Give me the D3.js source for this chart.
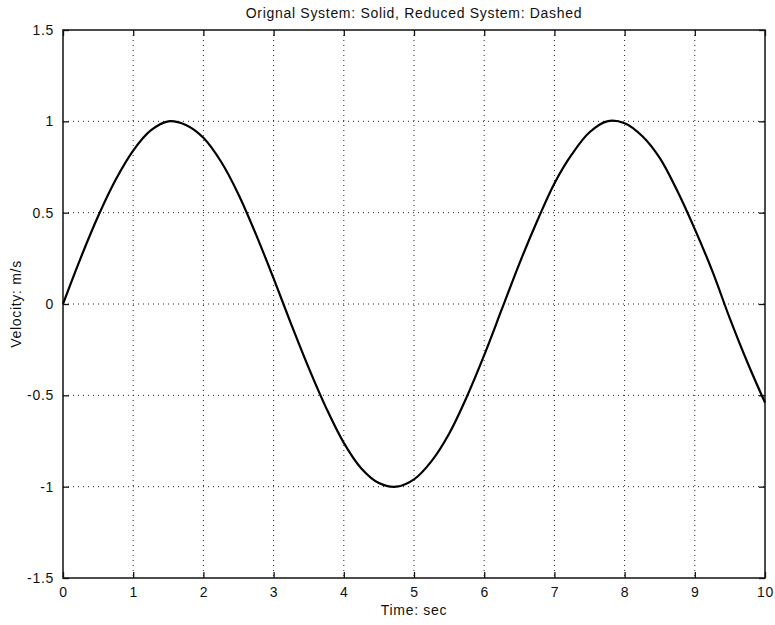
<!DOCTYPE html>
<html>
<head>
<meta charset="utf-8">
<script src="https://cdn.jsdelivr.net/npm/d3@7"></script>
<style>
  body { margin: 0; background: #fff; }
  text { font-family: "Liberation Sans", Arial, sans-serif; fill: #111; letter-spacing: 0.7px; }
</style>
</head>
<body>
<svg width="775" height="625"></svg>
<script>
// time samples (sec) and velocity
var time = [0, 0.25, 0.5, 0.75, 1, 1.25, 1.5, 1.75, 2, 2.25, 2.5, 2.75, 3, 3.25, 3.5, 3.75,
  4, 4.25, 4.5, 4.75, 5, 5.25, 5.5, 5.75, 6, 6.25, 6.5, 6.75, 7, 7.25, 7.5, 7.75,
  8, 8.25, 8.5, 8.75, 9, 9.25, 9.5, 9.75, 10];
var velocity = [0, 0.25, 0.48, 0.68, 0.84, 0.95, 1.0, 0.98, 0.91, 0.78, 0.6, 0.38, 0.14, -0.11, -0.35, -0.57,
  -0.76, -0.9, -0.98, -1.0, -0.96, -0.86, -0.71, -0.51, -0.28, -0.03, 0.22, 0.45, 0.66, 0.82, 0.94, 1.0,
  0.99, 0.92, 0.8, 0.62, 0.41, 0.18, -0.08, -0.32, -0.54];
var xTicks = [0, 1, 2, 3, 4, 5, 6, 7, 8, 9, 10];
var yTicks = [-1.5, -1, -0.5, 0, 0.5, 1, 1.5];

var svg = d3.select("svg");
var pLeft = 63, pRight = 765, pTop = 30, pBottom = 578;

var x = d3.scaleLinear().domain([0, 10]).range([pLeft, pRight]);
var y = d3.scaleLinear().domain([-1.5, 1.5]).range([pBottom, pTop]);

// grid
var grid = svg.append("g")
  .style("stroke", "#222")
  .style("stroke-width", 1)
  .style("stroke-dasharray", "1,4");
grid.selectAll("line.gx")
  .data(xTicks.slice(1, -1))
  .enter().append("line")
  .attr("x1", function(d) { return x(d); })
  .attr("x2", function(d) { return x(d); })
  .attr("y1", pTop).attr("y2", pBottom);
grid.selectAll("line.gy")
  .data(yTicks.slice(1, -1))
  .enter().append("line")
  .attr("y1", function(d) { return y(d); })
  .attr("y2", function(d) { return y(d); })
  .attr("x1", pLeft).attr("x2", pRight);

// axes, matlab style: ticks inward, on all four sides
var fmt = function(d) { return String(d); };
svg.append("g")
  .attr("transform", "translate(0," + pBottom + ")")
  .call(d3.axisBottom(x).tickValues(xTicks).tickSizeInner(-6).tickSizeOuter(0).tickPadding(9).tickFormat(fmt));
svg.append("g")
  .attr("transform", "translate(0," + pTop + ")")
  .call(d3.axisTop(x).tickValues(xTicks).tickSizeInner(-6).tickSizeOuter(0).tickFormat(""));
svg.append("g")
  .attr("transform", "translate(" + pLeft + ",0)")
  .call(d3.axisLeft(y).tickValues(yTicks).tickSizeInner(-6).tickSizeOuter(0).tickPadding(9).tickFormat(fmt));
svg.append("g")
  .attr("transform", "translate(" + pRight + ",0)")
  .call(d3.axisRight(y).tickValues(yTicks).tickSizeInner(-6).tickSizeOuter(0).tickFormat(""));

svg.selectAll(".domain").remove();
svg.selectAll(".tick line").style("stroke", "#111").style("stroke-width", 1.3);
svg.selectAll(".tick text").style("font-size", "14px").style("fill", "#111")
  .style("font-family", "'Liberation Sans', Arial, sans-serif");

svg.append("rect")
  .attr("x", pLeft).attr("y", pTop)
  .attr("width", pRight - pLeft).attr("height", pBottom - pTop)
  .style("fill", "none")
  .style("stroke", "#111")
  .style("stroke-width", 1.5);

// the curve
var line = d3.line()
  .x(function(d, i) { return x(time[i]); })
  .y(function(d) { return y(d); })
  .curve(d3.curveCatmullRom);

svg.append("path")
  .datum(velocity)
  .attr("d", line)
  .style("fill", "none")
  .style("stroke", "#000")
  .style("stroke-width", 2.2);

// labels
svg.append("text")
  .attr("x", (pLeft + pRight) / 2).attr("y", 18)
  .attr("text-anchor", "middle")
  .style("font-size", "14px")
  .text("Orignal System: Solid, Reduced System: Dashed");

svg.append("text")
  .attr("x", (pLeft + pRight) / 2).attr("y", 615)
  .attr("text-anchor", "middle")
  .style("font-size", "14px")
  .text("Time: sec");

svg.append("text")
  .attr("transform", "translate(21," + ((pTop + pBottom) / 2) + ") rotate(-90)")
  .attr("text-anchor", "middle")
  .style("font-size", "14px")
  .text("Velocity: m/s");
</script>
</body>
</html>
